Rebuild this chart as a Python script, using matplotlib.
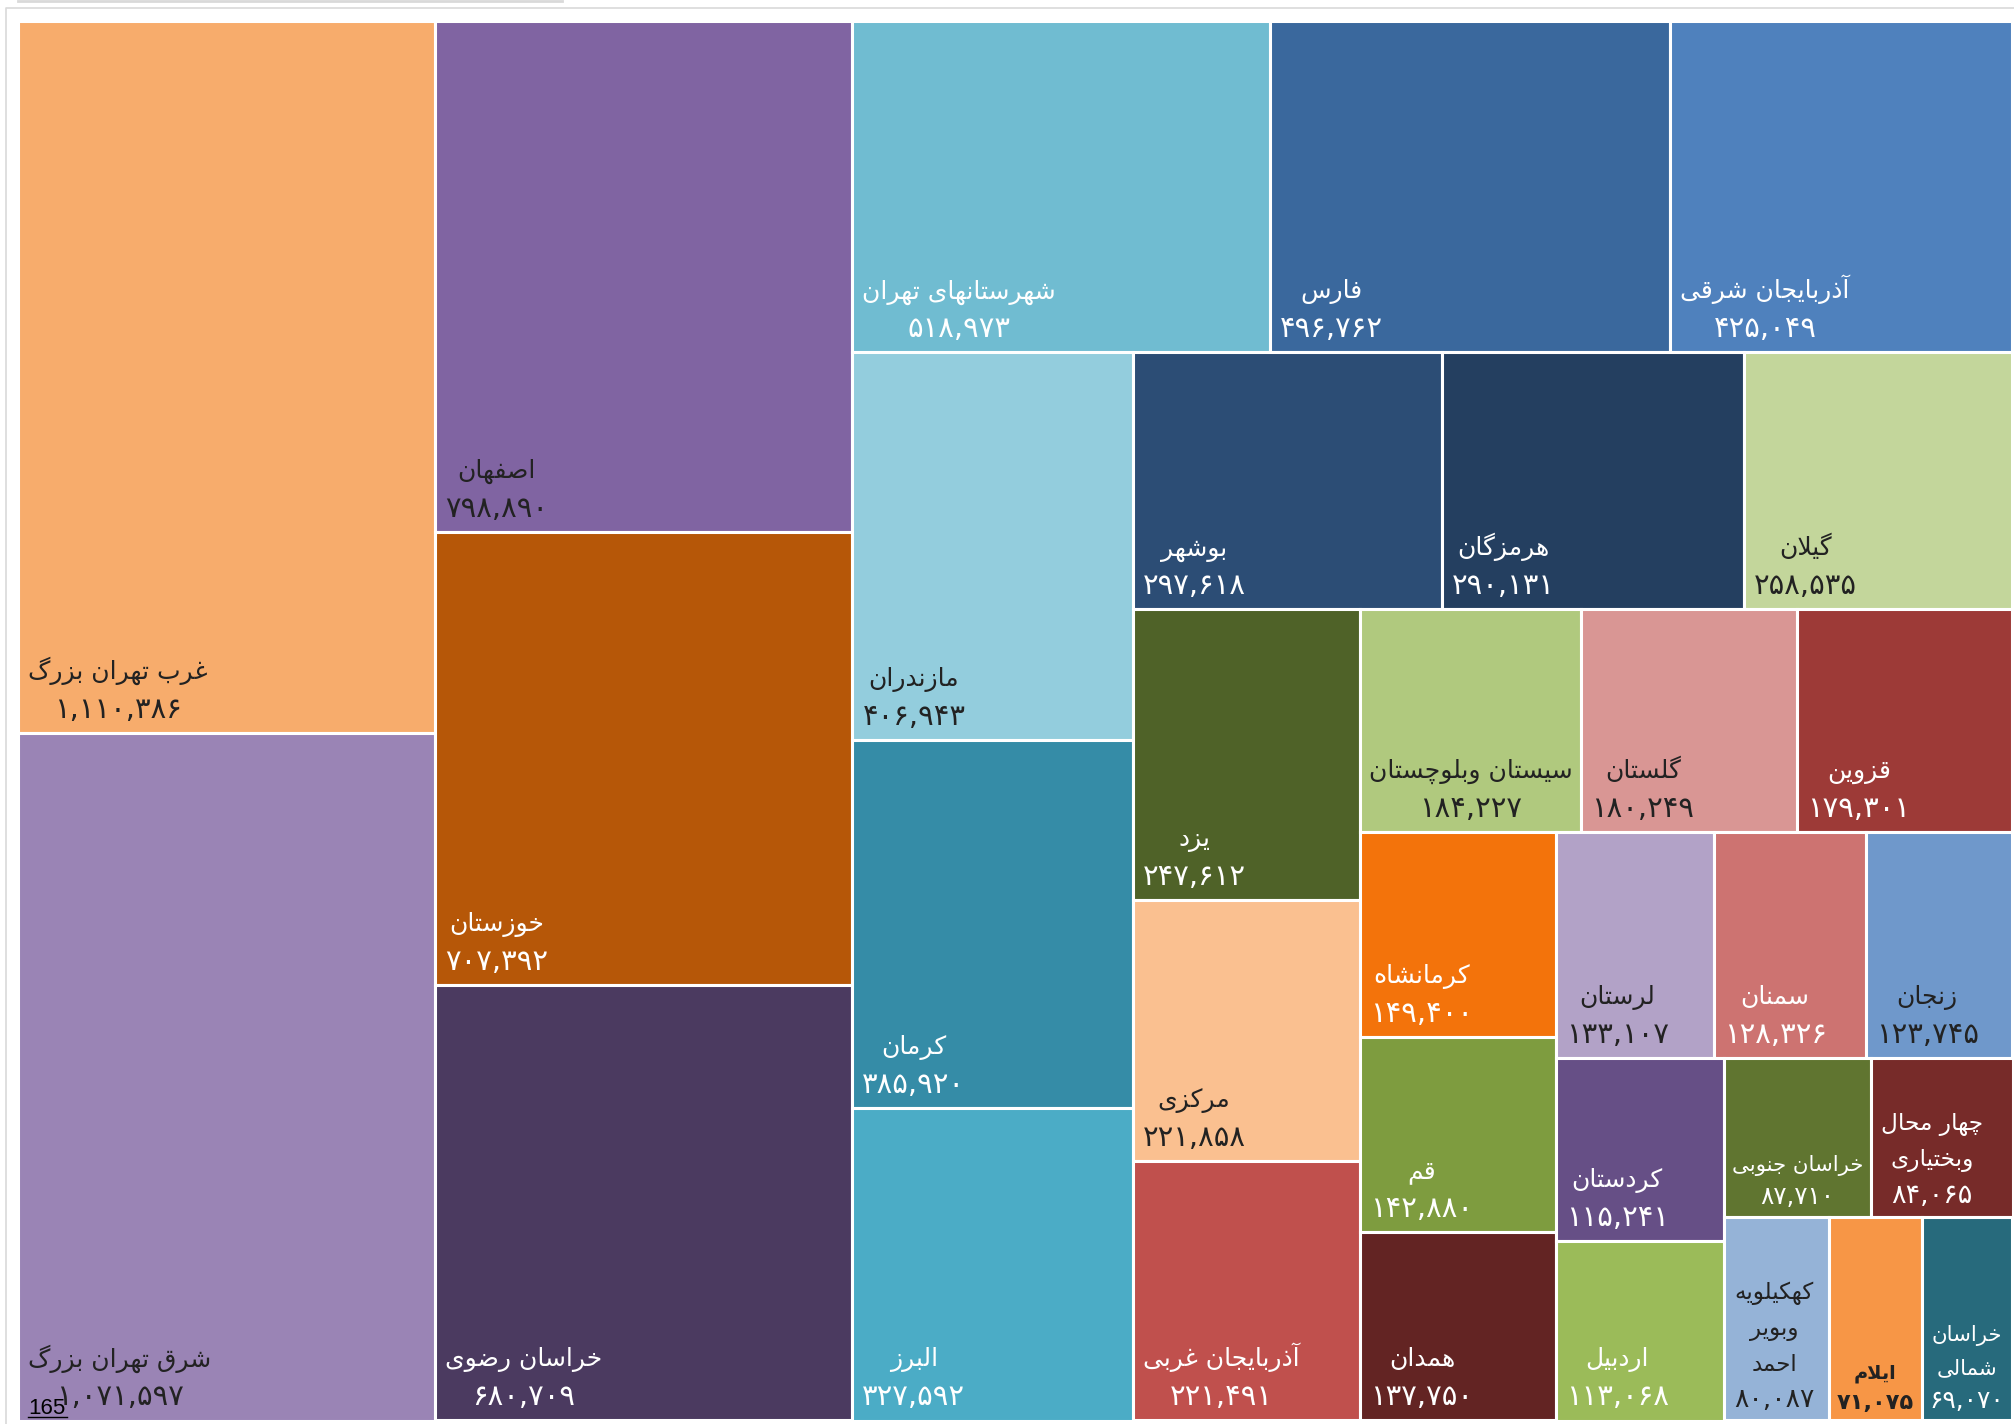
import matplotlib
matplotlib.use('Agg')
import matplotlib.pyplot as plt

# provinces (Persian names) and values, already sorted large -> small
names = [
    'غرب تهران بزرگ', 'شرق تهران بزرگ', 'اصفهان', 'خوزستان', 'خراسان رضوی',
    'شهرستانهای تهران', 'فارس', 'آذربایجان شرقی', 'مازندران', 'کرمان', 'البرز',
    'بوشهر', 'هرمزگان', 'گیلان', 'یزد', 'مرکزی', 'آذربایجان غربی',
    'سیستان وبلوچستان', 'گلستان', 'قزوین', 'کرمانشاه', 'قم', 'همدان',
    'لرستان', 'سمنان', 'زنجان', 'کردستان', 'اردبیل', 'خراسان جنوبی',
    'چهار محال\nوبختیاری', 'کهکیلویه\nوبویر\nاحمد', 'ایلام', 'خراسان\nشمالی',
]
values = [
    1110386, 1071597, 798890, 707392, 680709,
    518973, 496762, 425049, 406943, 385920, 327592,
    297618, 290131, 258535, 247612, 221858, 221491,
    184227, 180249, 179301, 149400, 142880, 137750,
    133107, 128326, 123745, 115241, 113068, 87710,
    84065, 80087, 71075, 69070,
]

tile_colors = [
    '#F7AC6C', '#9A84B5', '#8064A2', '#B65708', '#4B3A60',
    '#70BCD1', '#3A689D', '#4F81BD', '#93CDDD', '#358CA7', '#4BACC6',
    '#2C4D75', '#243F60', '#C3D69B', '#4F6228', '#FAC090', '#C0504D',
    '#B0C97E', '#D99694', '#9D3A37', '#F3730B', '#7E9C3F', '#632423',
    '#B2A2C7', '#CD7371', '#6F98CB', '#664F86', '#9BBB59', '#607530',
    '#772B29', '#95B3D7', '#F79646', '#276A7C',
]
DARK = '#222222'
W = 'white'
label_colors = [
    DARK, DARK, DARK, W, W,
    W, W, W, DARK, W, W,
    W, W, DARK, W, DARK, W,
    DARK, DARK, W, W, W, W,
    DARK, W, DARK, W, W, W,
    W, DARK, DARK, W,
]

# how many tiles go in each strip of the treemap
strip_counts = [2, 3, 3, 3, 3, 3, 3, 3, 3, 2, 2, 3]

# --- minimal arabic shaping (matplotlib has no text shaping) ---
FORMS = {
    'ا': ('\uFE8D', '\uFE8E', None, None),
    'آ': ('\uFE81', '\uFE82', None, None),
    'ب': ('\uFE8F', '\uFE90', '\uFE91', '\uFE92'),
    'پ': ('\uFB56', '\uFB57', '\uFB58', '\uFB59'),
    'ت': ('\uFE95', '\uFE96', '\uFE97', '\uFE98'),
    'ث': ('\uFE99', '\uFE9A', '\uFE9B', '\uFE9C'),
    'ج': ('\uFE9D', '\uFE9E', '\uFE9F', '\uFEA0'),
    'چ': ('\uFB7A', '\uFB7B', '\uFB7C', '\uFB7D'),
    'ح': ('\uFEA1', '\uFEA2', '\uFEA3', '\uFEA4'),
    'خ': ('\uFEA5', '\uFEA6', '\uFEA7', '\uFEA8'),
    'د': ('\uFEA9', '\uFEAA', None, None),
    'ذ': ('\uFEAB', '\uFEAC', None, None),
    'ر': ('\uFEAD', '\uFEAE', None, None),
    'ز': ('\uFEAF', '\uFEB0', None, None),
    'ژ': ('\uFB8A', '\uFB8B', None, None),
    'س': ('\uFEB1', '\uFEB2', '\uFEB3', '\uFEB4'),
    'ش': ('\uFEB5', '\uFEB6', '\uFEB7', '\uFEB8'),
    'ص': ('\uFEB9', '\uFEBA', '\uFEBB', '\uFEBC'),
    'ض': ('\uFEBD', '\uFEBE', '\uFEBF', '\uFEC0'),
    'ط': ('\uFEC1', '\uFEC2', '\uFEC3', '\uFEC4'),
    'ظ': ('\uFEC5', '\uFEC6', '\uFEC7', '\uFEC8'),
    'ع': ('\uFEC9', '\uFECA', '\uFECB', '\uFECC'),
    'غ': ('\uFECD', '\uFECE', '\uFECF', '\uFED0'),
    'ف': ('\uFED1', '\uFED2', '\uFED3', '\uFED4'),
    'ق': ('\uFED5', '\uFED6', '\uFED7', '\uFED8'),
    'ک': ('\uFB8E', '\uFB8F', '\uFB90', '\uFB91'),
    'گ': ('\uFB92', '\uFB93', '\uFB94', '\uFB95'),
    'ل': ('\uFEDD', '\uFEDE', '\uFEDF', '\uFEE0'),
    'م': ('\uFEE1', '\uFEE2', '\uFEE3', '\uFEE4'),
    'ن': ('\uFEE5', '\uFEE6', '\uFEE7', '\uFEE8'),
    'ه': ('\uFEE9', '\uFEEA', '\uFEEB', '\uFEEC'),
    'و': ('\uFEED', '\uFEEE', None, None),
    'ی': ('\uFBFC', '\uFBFD', '\uFBFE', '\uFBFF'),
}
LAM_ALEF = {'ا': ('\uFEFB', '\uFEFC'), 'آ': ('\uFEF5', '\uFEF6')}


def joins_left(c):
    return c in FORMS and FORMS[c][2] is not None


def shape_line(s):
    out = []
    i = 0
    while i < len(s):
        c = s[i]
        prev = s[i - 1] if i > 0 else ''
        nxt = s[i + 1] if i + 1 < len(s) else ''
        if c not in FORMS:
            out.append(c)
            i += 1
            continue
        jp = joins_left(prev)
        if c == 'ل' and nxt in LAM_ALEF:
            out.append(LAM_ALEF[nxt][1 if jp else 0])
            i += 2
            continue
        jn = joins_left(c) and nxt in FORMS
        iso, fin, ini, med = FORMS[c]
        if jp and jn:
            out.append(med)
        elif jp:
            out.append(fin)
        elif jn:
            out.append(ini)
        else:
            out.append(iso)
        i += 1
    return ''.join(out)[::-1]


def fa_number(n):
    return f'{n:,}'.translate(str.maketrans('0123456789', '۰۱۲۳۴۵۶۷۸۹'))


def strip_layout(vals, x, y, w, h, counts):
    scale = w * h / sum(vals)
    rects = []
    i = 0
    for n in counts:
        group = vals[i:i + n]
        area = sum(group) * scale
        last = i + n == len(vals)
        # strips run along the short side; the final one is cut along the long side
        if (w >= h) != last:
            sw = area / h
            yy = y
            for v in group:
                th = v * scale / sw
                rects.append((x, yy, sw, th))
                yy += th
            x += sw
            w -= sw
        else:
            sh = area / w
            xx = x
            for v in group:
                tw = v * scale / sh
                rects.append((xx, y, tw, sh))
                xx += tw
            y += sh
            h -= sh
        i += n
    return rects


fig = plt.figure(figsize=(20.15, 14.24), dpi=100)
ax = fig.add_axes([0, 0, 1, 1])
ax.set_xlim(0, 2015)
ax.set_ylim(1424, 0)
ax.axis('off')

# page frame bits
ax.plot([6, 6, 2015], [1424, 8, 8], color='#d9d9d9', lw=1.2)
ax.plot([18, 562], [1, 1], color='#d9d9d9', lw=2)

rects = strip_layout(values, 18.5, 20.5, 1994, 1400, strip_counts)
xs = [r[0] for r in rects]
ys = [r[1] for r in rects]
ws = [r[2] for r in rects]
hs = [r[3] for r in rects]
ax.bar(xs, hs, width=ws, bottom=ys, align='edge', color=tile_colors,
       edgecolor='white', linewidth=2.2)

renderer = fig.canvas.get_renderer()
PAD_X, PAD_Y, LINE = 10, 15, 39
NUM_FS, NAME_FS = 21, 18
FULL_AREA = 30000  # tiles smaller than this (px^2) get a bit smaller labels


def put_label(i, x, y, w, h, f):
    weight = 'bold' if names[i] == 'ایلام' else 'normal'
    style = dict(ha='center', va='baseline', color=label_colors[i],
                 family='DejaVu Sans', fontweight=weight)
    base = y + h - PAD_Y * f
    objs = [ax.text(0, base, fa_number(values[i]), fontsize=NUM_FS * f, **style)]
    for k, part in enumerate(reversed(names[i].split('\n'))):
        objs.append(ax.text(0, base - (k + 1) * LINE * f, shape_line(part),
                            fontsize=NAME_FS * f, **style))
    block_w = max(t.get_window_extent(renderer).width for t in objs)
    return objs, block_w


for i, (x, y, w, h) in enumerate(rects):
    f = min(1.0, (w * h / FULL_AREA) ** 0.25)
    objs, block_w = put_label(i, x, y, w, h, f)
    room = w - 16
    if block_w > room:
        # shrink the label further for the narrow tiles
        for t in objs:
            t.remove()
        objs, block_w = put_label(i, x, y, w, h, f * room / block_w)
    pad = min(PAD_X, (w - block_w) / 2)
    for t in objs:
        t.set_x(x + pad + block_w / 2)

# stray page number in the lower left corner
ax.text(28, 1414, '165', fontsize=16, family='Liberation Sans',
        color='black', ha='left', va='baseline')
ax.plot([28, 67], [1417, 1417], color='black', lw=1)

fig.savefig('out.png', dpi=100)
